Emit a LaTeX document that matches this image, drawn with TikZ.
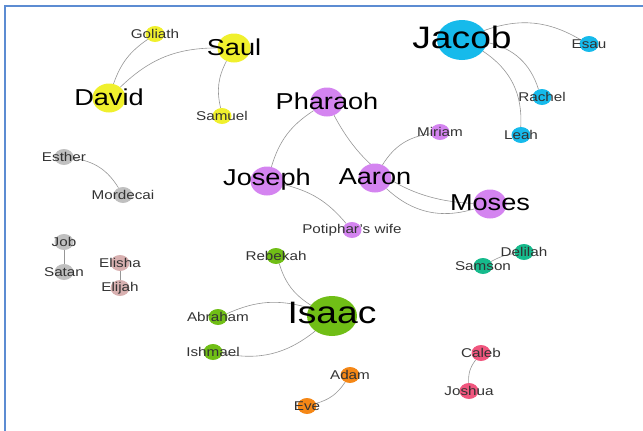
\documentclass[tikz,border=0pt]{standalone}
\usepackage{fontspec}
\setmainfont{Liberation Sans}
\usetikzlibrary{shapes.geometric, backgrounds}
\definecolor{saulyellow}{RGB}{240,240,45}
\definecolor{jacobblue}{RGB}{22,186,235}
\definecolor{mosesviolet}{RGB}{212,132,240}
\definecolor{isaacgreen}{RGB}{112,190,22}
\definecolor{jobgray}{RGB}{192,192,192}
\definecolor{elijahrose}{RGB}{216,176,176}
\definecolor{samsonteal}{RGB}{22,186,140}
\definecolor{adamorange}{RGB}{245,135,22}
\definecolor{calebpink}{RGB}{240,86,126}
\definecolor{frameblue}{RGB}{92,140,210}
\definecolor{linkgray}{RGB}{150,150,150}
\tikzset{
    person/.style={ellipse, inner sep=0pt, draw=none},
    hub/.style={person, minimum width=50pt, minimum height=40pt, label={[hubname]center:#1}},
    mid/.style={person, minimum width=33pt, minimum height=29pt, label={[midname]center:#1}},
    leaf/.style={person, minimum width=19pt, minimum height=16pt, label={[leafname]center:#1}},
    hubname/.style={font=\fontsize{31}{31}\selectfont, xscale=1.2, yshift=3pt},
    midname/.style={font=\fontsize{23}{23}\selectfont, xscale=1.18, yshift=1pt},
    leafname/.style={font=\fontsize{12.7}{13}\selectfont, xscale=1.2, text=black!80},
    link/.style={draw=linkgray, line width=0.6pt},
    frame/.style={draw=frameblue, line width=2pt},
}

\begin{document}
\begin{tikzpicture}[x=1pt, y=-1pt]
    \useasboundingbox (0,0) rectangle (643,431);
    % frame
    \coordinate (fbottom) at (5,431);
    \coordinate (fcorner) at (5,6);
    \coordinate (fright) at (643,6);
    \draw[frame] (fbottom) -- (fcorner) -- (fright);
    % saul group
    \node [leaf=Goliath, fill=saulyellow] (goliath) at (155,34) {};
    \node [mid=Saul, fill=saulyellow] (saul) at (234,48) {};
    \node [mid=David, fill=saulyellow] (david) at (109,98) {};
    \node [leaf=Samuel, fill=saulyellow] (samuel) at (222,116) {};
    % jacob group
    \node [hub=Jacob, fill=jacobblue] (jacob) at (462,40) {};
    \node [leaf=Esau, fill=jacobblue] (esau) at (589,44) {};
    \node [leaf=Rachel, fill=jacobblue] (rachel) at (542,97) {};
    \node [leaf=Leah, fill=jacobblue] (leah) at (521,135) {};
    % moses group
    \node [mid=Pharaoh, fill=mosesviolet] (pharaoh) at (327,102) {};
    \node [leaf=Miriam, fill=mosesviolet] (miriam) at (440,132) {};
    \node [mid=Joseph, fill=mosesviolet] (joseph) at (267,181) {};
    \node [mid=Aaron, fill=mosesviolet] (aaron) at (375,178) {};
    \node [mid=Moses, fill=mosesviolet] (moses) at (490,204) {};
    \node [leaf=Potiphar's wife, fill=mosesviolet] (potiphar) at (352,230) {};
    % small pairs
    \node [leaf=Esther, fill=jobgray] (esther) at (64,157) {};
    \node [leaf=Mordecai, fill=jobgray] (mordecai) at (123,195) {};
    \node [leaf=Job, fill=jobgray] (job) at (64,242) {};
    \node [leaf=Satan, fill=jobgray] (satan) at (64,272) {};
    \node [leaf=Elisha, fill=elijahrose] (elisha) at (120,263) {};
    \node [leaf=Elijah, fill=elijahrose] (elijah) at (120,288) {};
    \node [leaf=Samson, fill=samsonteal] (samson) at (483,266) {};
    \node [leaf=Delilah, fill=samsonteal] (delilah) at (524,252) {};
    \node [leaf=Caleb, fill=calebpink] (caleb) at (481,353) {};
    \node [leaf=Joshua, fill=calebpink] (joshua) at (469,391) {};
    \node [leaf=Adam, fill=adamorange] (adam) at (350,375) {};
    \node [leaf=Eve, fill=adamorange] (eve) at (307,406) {};
    % isaac group
    \node [leaf=Rebekah, fill=isaacgreen] (rebekah) at (276,256) {};
    \node [hub=Isaac, fill=isaacgreen] (isaac) at (332,316) {};
    \node [leaf=Abraham, fill=isaacgreen] (abraham) at (218,317) {};
    \node [leaf=Ishmael, fill=isaacgreen] (ishmael) at (213,352) {};
    % links
    \begin{scope}[on background layer]
        \draw[link] (david) to[bend left=18] (goliath);
        \draw[link] (david) to[bend left=22] (saul);
        \draw[link] (saul) to[bend right=20] (samuel);
        \draw[link] (esther) to[bend left=25] (mordecai);
        \draw[link] (job) -- (satan);
        \draw[link] (elisha) -- (elijah);
        \draw[link] (pharaoh) to[bend right=20] (joseph);
        \draw[link] (pharaoh) to[bend right=30] (moses);
        \draw[link] (aaron) to[bend right=30] (moses);
        \draw[link] (aaron) to[bend left=25] (miriam);
        \draw[link] (joseph) to[bend left=18] (potiphar);
        \draw[link] (jacob) to[bend left=25] (esau);
        \draw[link] (jacob) to[bend left=30] (rachel);
        \draw[link] (jacob) to[bend left=30] (leah);
        \draw[link] (rebekah) to[bend right=20] (isaac);
        \draw[link] (abraham) to[bend left=20] (isaac);
        \draw[link] (ishmael) to[bend right=25] (isaac);
        \draw[link] (adam) to[bend left=20] (eve);
        \draw[link] (samson) to[bend left=10] (delilah);
        \draw[link] (caleb) to[bend right=20] (joshua);
    \end{scope}
\end{tikzpicture}
\end{document}
